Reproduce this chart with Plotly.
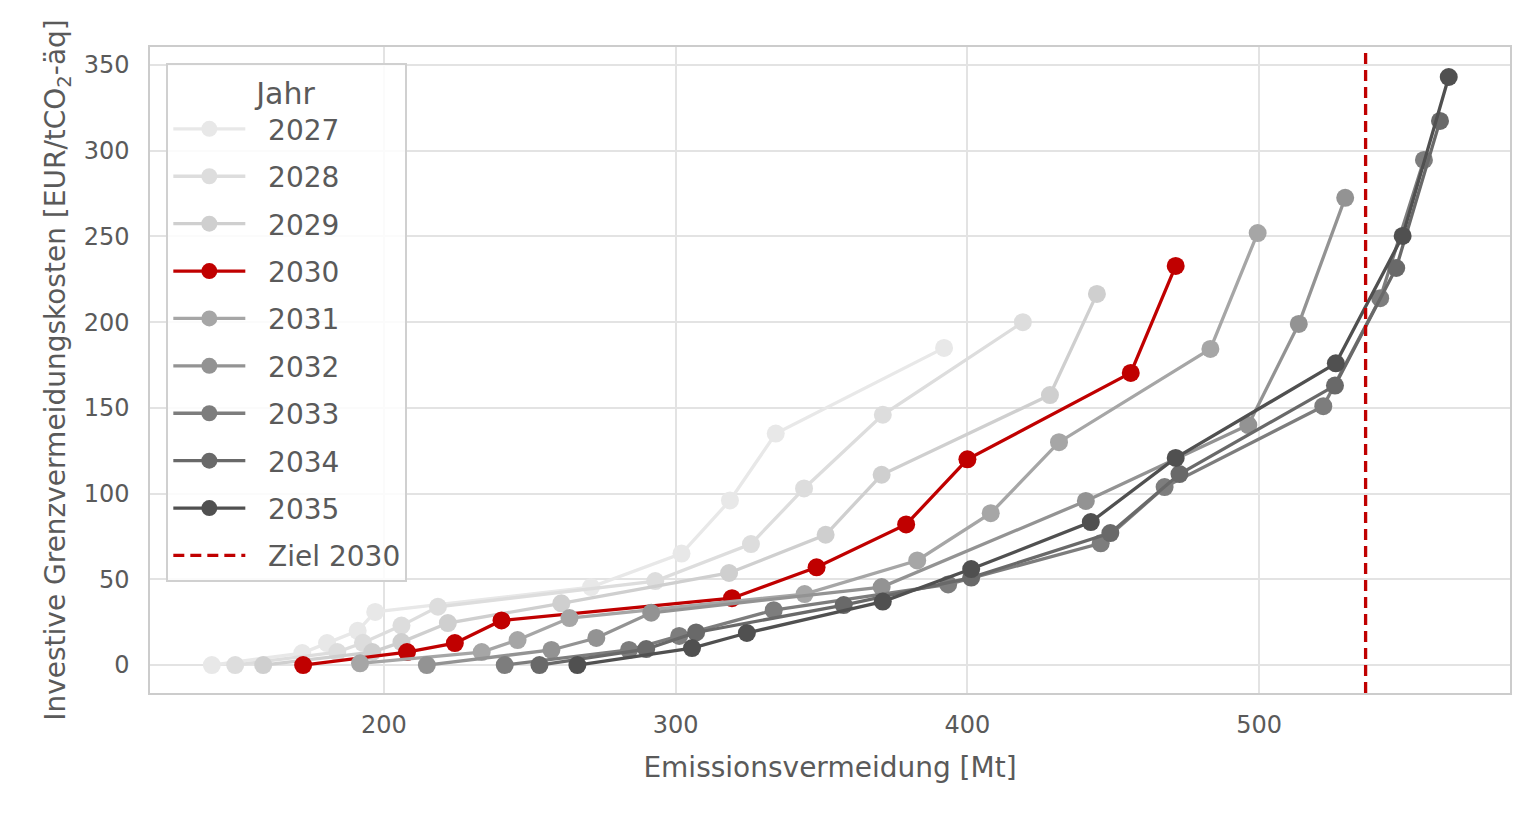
import plotly.graph_objects as go

years = ["2027", "2028", "2029", "2030", "2031", "2032", "2033", "2034", "2035"]
colors = ["#e8e8e8", "#dddddd", "#cfcfcf", "#c00000", "#a6a6a6", "#939393", "#7d7d7d", "#696969", "#505050"]

x_2027 = [141, 172, 180.5, 191, 197, 271, 302, 318.6, 334.3, 392]
y_2027 = [0, 7, 12.8, 20, 31, 45.5, 65, 96, 135, 185]
x_2028 = [149, 184, 192.8, 206, 218.5, 293, 325.8, 344, 371, 419]
y_2028 = [0, 7.6, 13, 23, 34, 49, 70.6, 103, 146, 200]
x_2029 = [158.6, 196, 206, 221.9, 260.8, 318.3, 351.4, 370.6, 428.3, 444.4]
y_2029 = [0, 7.6, 13.4, 24.5, 36, 53.7, 76, 111, 157.5, 216.5]
x_2030 = [172.3, 207.9, 224.3, 240.3, 319.3, 348.3, 379, 400, 456, 471.4]
y_2030 = [0, 7.6, 12.8, 26, 39, 57, 82, 120, 170.4, 232.8]
x_2031 = [191.8, 233.5, 245.8, 263.6, 344.2, 382.8, 408, 431.4, 483.3, 499.5]
y_2031 = [1, 7.6, 14.6, 27.4, 41.4, 61, 88.6, 130, 184.4, 252]
x_2032 = [214.7, 257.4, 272.8, 291.6, 370.6, 440.6, 496.3, 513.6, 529.5]
y_2032 = [0, 8.8, 15.8, 30.5, 45.5, 95.7, 140, 199, 272.5]
x_2033 = [241.4, 284, 301.2, 333.6, 393.4, 445.7, 467.6, 522, 541.5, 556.5]
y_2033 = [0, 8.8, 17, 32, 47, 71, 103.8, 151, 214, 294.6]
x_2034 = [253.3, 289.9, 307, 357.6, 401.3, 449, 472.7, 526, 547, 562]
y_2034 = [0, 9.3, 19, 35, 51, 77, 111.4, 163, 231.6, 317.4]
x_2035 = [266.3, 305.6, 324.4, 371, 401.3, 442.3, 471.4, 526.3, 549.2, 565]
y_2035 = [0, 9.9, 18.7, 37, 56, 83.4, 120.8, 176, 250.3, 343]

target_x = 536.5
target_label = "Ziel 2030"

xs = [x_2027, x_2028, x_2029, x_2030, x_2031, x_2032, x_2033, x_2034, x_2035]
ys = [y_2027, y_2028, y_2029, y_2030, y_2031, y_2032, y_2033, y_2034, y_2035]

FONT = "DejaVu Sans"
TXT = "#5a5a5a"
PAD = "\u00a0\u00a0"

fig = go.Figure()
for i, (yr, c, x, y) in enumerate(zip(years, colors, xs, ys)):
    fig.add_trace(go.Scatter(
        x=x, y=y, name=PAD + yr, mode="lines+markers",
        line=dict(color=c, width=3.3),
        marker=dict(color=c, size=18),
        legendgroup=yr,
    ))

fig.add_trace(go.Scatter(
    x=[target_x, target_x], y=[-16.3, 360.5], name=PAD + target_label, mode="lines",
    line=dict(color="#c00000", width=3.3, dash="11px,6px"),
    legendgroup="ziel", hoverinfo="skip",
))

fig.update_layout(
    width=1534, height=816,
    margin=dict(l=150, r=24, t=47, b=123),
    paper_bgcolor="white", plot_bgcolor="white",
    font=dict(family=FONT, size=24, color=TXT),
    legend=dict(
        x=0.012, y=0.975, xanchor="left", yanchor="top",
        bgcolor="rgba(255,255,255,0.85)", bordercolor="#d0d0d0", borderwidth=2,
        title=dict(text="Jahr", font=dict(size=30, color=TXT), side="top center"),
        font=dict(size=28, color=TXT),
        tracegroupgap=8, itemwidth=72,
    ),
    showlegend=True,
)
fig.update_xaxes(
    range=[119.8, 586], tickvals=[200, 300, 400, 500],
    showgrid=True, gridcolor="#e3e3e3", gridwidth=1.5,
    showline=True, linecolor="#cccccc", linewidth=1.5, mirror=True,
    zeroline=False, ticks="", ticklabelstandoff=9,
    tickfont=dict(size=24, color=TXT),
    title=dict(text="Emissionsvermeidung [Mt]", font=dict(size=28, color=TXT), standoff=20),
)
fig.update_yaxes(
    range=[-16.3, 360.5], tickvals=[0, 50, 100, 150, 200, 250, 300, 350],
    showgrid=True, gridcolor="#e3e3e3", gridwidth=1.5,
    showline=True, linecolor="#cccccc", linewidth=1.5, mirror=True,
    zeroline=False, ticks="", ticklabelstandoff=14,
    tickfont=dict(size=24, color=TXT),
    title=dict(text="Investive Grenzvermeidungskosten [EUR/tCO<sub>2</sub>-äq]", font=dict(size=28, color=TXT), standoff=10),
)

fig.write_html("out.html")
